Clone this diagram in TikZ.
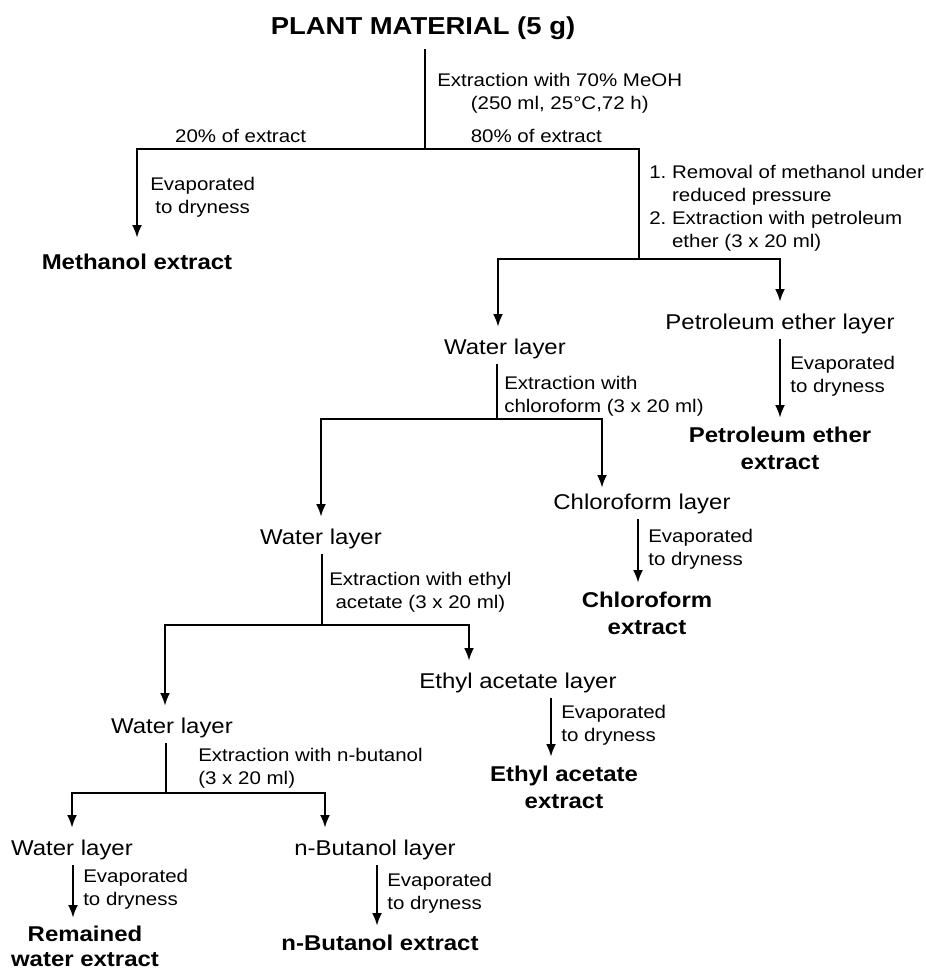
\documentclass[tikz,border=0pt]{standalone}
\usepackage{fontspec}
\setmainfont{Liberation Sans}[FakeStretch=1.12]
\usetikzlibrary{arrows.meta}
\frenchspacing

\tikzset{%
  >={Latex[length=13pt,width=10pt]},
  heading/.style={font=\bfseries\fontsize{24.5}{28}\selectfont, anchor=base, inner sep=9pt},
  layer/.style={font=\fontsize{21.4}{26}\selectfont, anchor=north, inner xsep=0pt,
    inner ysep=8pt, text height=18.5pt, text depth=0pt},
  extract/.style={font=\bfseries\fontsize{21.4}{26.5}\selectfont, anchor=north,
    align=center, inner xsep=0pt, inner ysep=8pt},
  note/.style={font=\fontsize{18.3}{23}\selectfont, inner sep=0pt},
  evap/.style={note, align=left, midway, right=9pt, yshift=2pt}
}

\begin{document}
\begin{tikzpicture}[x=1pt, y=-1pt, line width=2.6pt]
  \useasboundingbox (0,0) rectangle (926,972);

  % branch points
  \coordinate (s0) at (425,149);
  \coordinate (s1) at (639,259);
  \coordinate (s1l) at (498,259);
  \coordinate (s2) at (497,419);
  \coordinate (s2r) at (602,419);
  \coordinate (s3) at (322,625);
  \coordinate (s3l) at (165,625);
  \coordinate (s3r) at (469,625);
  \coordinate (s4) at (166,793);
  \coordinate (s4r) at (325,793);

  \node[heading] (plant) at (423,34) {PLANT MATERIAL (5 g)};

  \node[extract, inner ysep=15pt] (meth) at (137,238) {Methanol extract};
  \node[layer] (wat1) at (505,327) {Water layer};
  \node[layer] (pel) at (780,302) {Petroleum ether layer};
  \node[extract] (pex) at (780,418) {Petroleum ether\\extract};
  \node[layer] (wat2) at (321,517) {Water layer};
  \node[layer, text height=12.5pt] (chl) at (642,488) {Chloroform layer};
  \node[extract] (chx) at (647,583) {Chloroform\\extract};
  \node[layer] (wat3) at (172,706) {Water layer};
  \node[layer] (eal) at (518,661) {Ethyl acetate layer};
  \node[extract] (eax) at (564,757) {Ethyl acetate\\extract};
  \node[layer] (wat4) at (72,828) {Water layer};
  \node[extract, inner ysep=7pt,
    font=\bfseries\fontsize{21.4}{25}\selectfont] (wax) at (85,918) {Remained\\water extract};
  \node[layer] (bul) at (375,828) {n-Butanol layer};
  \node[extract] (bux) at (380,926) {n-Butanol extract};

  % methanol extraction and the 20/80 split
  \draw (plant.south -| s0) -- (s0)
    node[note, midway, right=11pt, yshift=6pt, align=center]
      {Extraction with 70\% MeOH\\(250 ml, 25°C,72 h)};
  \draw[->] (s0) -| (meth.north)
    node[note, pos=0.32, above=5pt] {20\% of extract}
    node[note, pos=0.75, right=12pt, yshift=-4pt, align=center] {Evaporated\\to dryness};
  \draw (s0) -| (s1)
    node[note, pos=0.26, above=5pt] {80\% of extract}
    node[note, pos=0.75, right=9pt, yshift=-4pt, align=left]
      {1. Removal of methanol under\\\phantom{1. }reduced pressure\\
       2. Extraction with petroleum\\\phantom{2. }ether (3 x 20 ml)};
  \draw[<->] (wat1.north -| s1l) |- (s1) -| (pel.north);

  % chloroform
  \draw (wat1.south -| s2) -- (s2)
    node[note, midway, right=6pt, yshift=-5pt, align=left]
      {Extraction with\\chloroform (3 x 20 ml)};
  \draw[<->] (wat2.north) |- (s2) -| (chl.north -| s2r);

  % ethyl acetate
  \draw (wat2.south -| s3) -- (s3)
    node[note, midway, right=6pt, yshift=-3pt, align=center]
      {Extraction with ethyl\\acetate (3 x 20 ml)};
  \draw[<->] (wat3.north -| s3l) |- (s3) -| (eal.north -| s3r);

  % n-butanol
  \draw (wat3.south -| s4) -- (s4)
    node[note, midway, right=31pt, align=left]
      {Extraction with n-butanol\\(3 x 20 ml)};
  \draw[<->] (wat4.north) |- (s4) -| (bul.north -| s4r);

  % evaporation of each layer
  \foreach \a/\b/\x in {pel/pex/780, chl/chx/638, eal/eax/551, wat4/wax/73, bul/bux/377} {
    \coordinate (ev) at (\x,0);
    \draw[->] (\a.south -| ev) -- (\b.north -| ev)
      node[evap] {Evaporated\\to dryness};
  }
\end{tikzpicture}
\end{document}
